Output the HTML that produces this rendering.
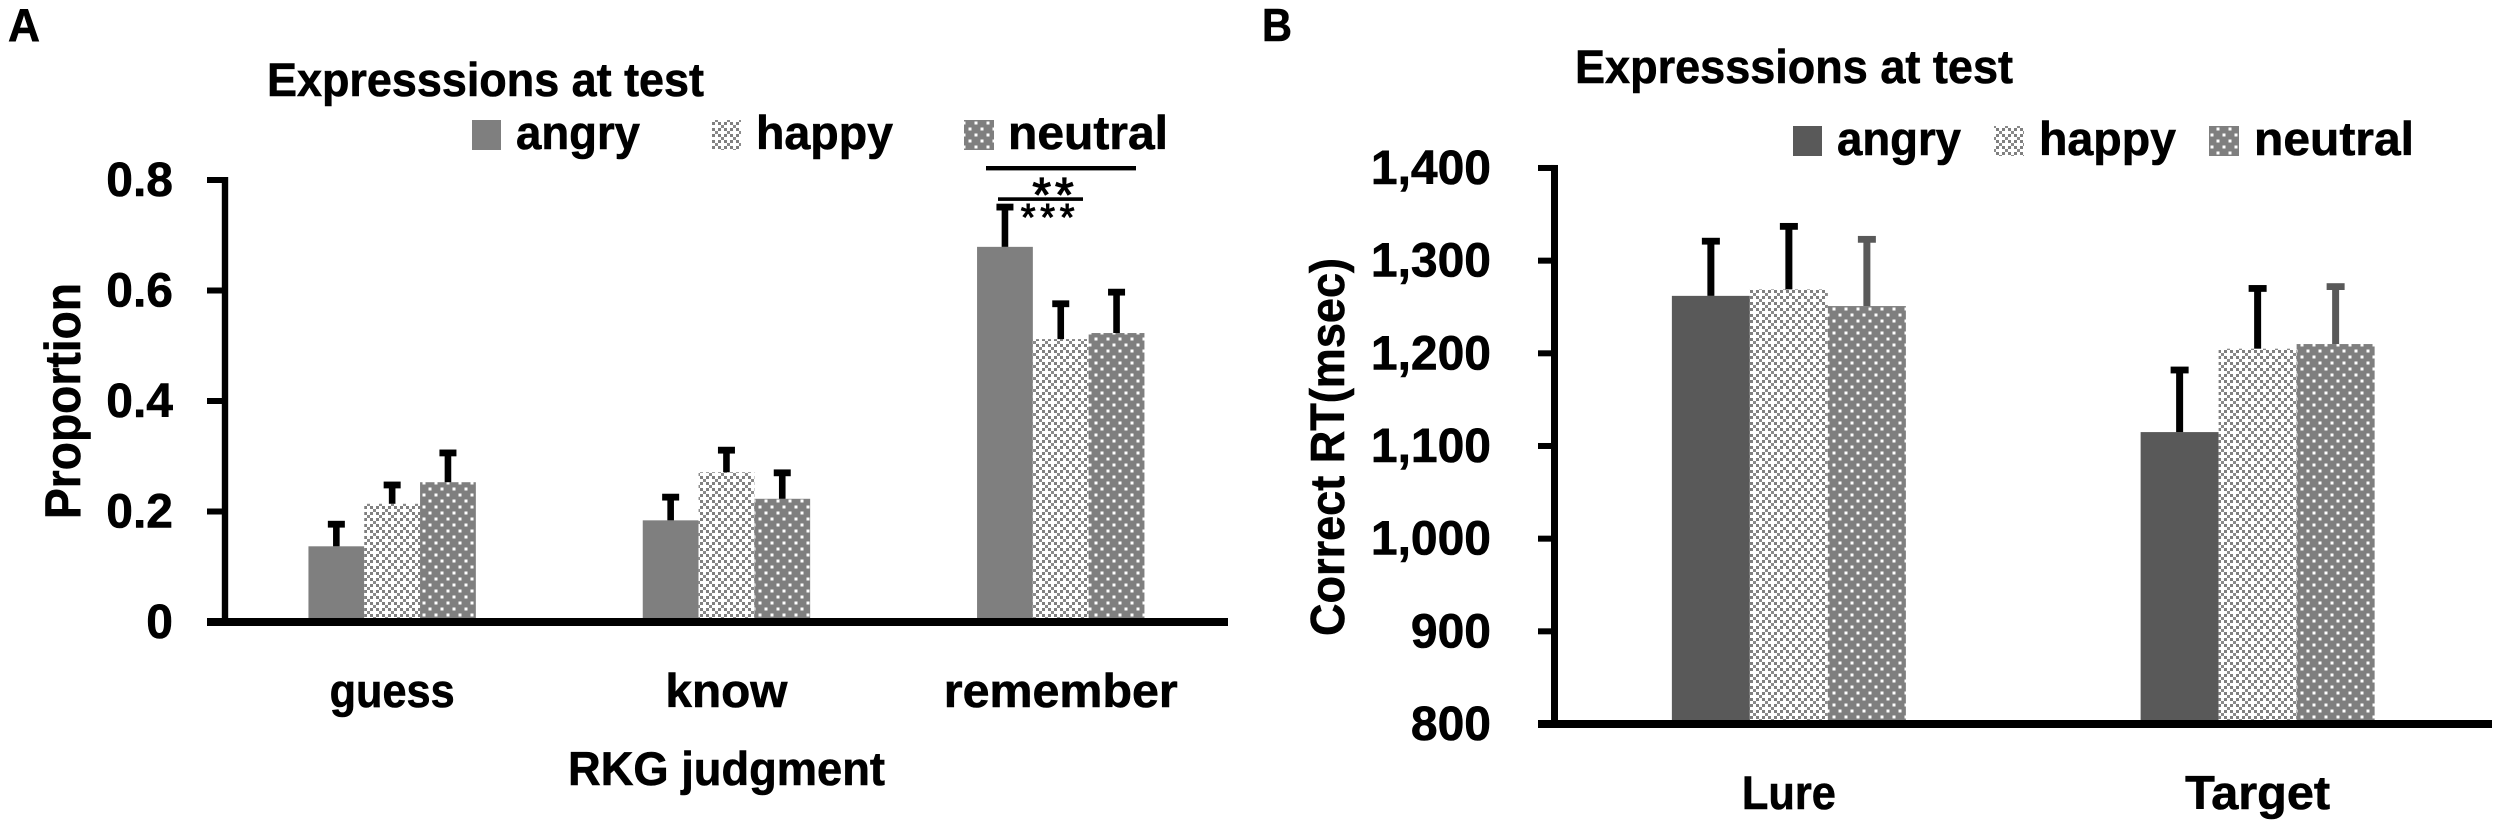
<!DOCTYPE html>
<html lang="en">
<head>
<meta charset="utf-8">
<title>Expressions at test: RKG judgment and correct RT</title>
<style>
html,body{margin:0;padding:0;background:#fff;width:2500px;height:827px;overflow:hidden}
svg{display:block}
text{font-family:"Liberation Sans",Arial,sans-serif;font-weight:700;fill:#000;stroke:#000;stroke-width:0.6px}
</style>
</head>
<body>
<svg id="figure" xmlns="http://www.w3.org/2000/svg" width="2500" height="827" viewBox="0 0 2500 827">
  <defs>
    <pattern id="pat-happy" width="12" height="12" patternUnits="userSpaceOnUse" x="2" y="0">
      <rect width="12" height="12" fill="#fff"/>
      <rect x="2" y="2" width="3" height="3" fill="#7f7f7f"/>
      <rect x="8" y="2" width="3" height="3" fill="#7f7f7f"/>
      <rect x="2" y="8" width="3" height="3" fill="#7f7f7f"/>
      <rect x="8" y="8" width="3" height="3" fill="#7f7f7f"/>
      <rect x="5" y="-1" width="3" height="3" fill="#8a8a8a"/>
      <rect x="5" y="11" width="3" height="3" fill="#8a8a8a"/>
      <rect x="-1" y="5" width="3" height="3" fill="#8a8a8a"/>
      <rect x="11" y="5" width="3" height="3" fill="#8a8a8a"/>
    </pattern>
    <pattern id="pat-neutral" width="12" height="12" patternUnits="userSpaceOnUse" x="1" y="0">
      <rect width="12" height="12" fill="#7f7f7f"/>
      <rect x="1.5" y="1.5" width="3" height="3" fill="#fff"/>
      <rect x="7.5" y="7.5" width="3" height="3" fill="#fff"/>
    </pattern>
  </defs>
  <rect width="2500" height="827" fill="#fff"/>

  <text x="8" y="41" font-size="46" textLength="32" lengthAdjust="spacingAndGlyphs">A</text>
  <text x="1262" y="41" font-size="46" textLength="30" lengthAdjust="spacingAndGlyphs">B</text>

  <g>
    <text x="267" y="96" font-size="47" textLength="437" lengthAdjust="spacingAndGlyphs">Expresssions at test</text>
    <rect x="472" y="120" width="29" height="30" fill="#7f7f7f"/>
    <text x="516" y="149" font-size="47" textLength="124" lengthAdjust="spacingAndGlyphs">angry</text>
    <rect x="712" y="120" width="29" height="30" fill="url(#pat-happy)"/>
    <text x="756" y="149" font-size="47" textLength="137" lengthAdjust="spacingAndGlyphs">happy</text>
    <rect x="964" y="120" width="30" height="30" fill="url(#pat-neutral)"/>
    <text x="1008" y="149" font-size="47" textLength="160" lengthAdjust="spacingAndGlyphs">neutral</text>
  </g>

  <g>
    <text x="1575" y="83" font-size="47" textLength="438" lengthAdjust="spacingAndGlyphs">Expresssions at test</text>
    <rect x="1793" y="126" width="29" height="30" fill="#595959"/>
    <text x="1837" y="155" font-size="47" textLength="124" lengthAdjust="spacingAndGlyphs">angry</text>
    <rect x="1994" y="126" width="30" height="30" fill="url(#pat-happy)"/>
    <text x="2039" y="155" font-size="47" textLength="137" lengthAdjust="spacingAndGlyphs">happy</text>
    <rect x="2209" y="126" width="30" height="30" fill="url(#pat-neutral)"/>
    <text x="2254" y="155" font-size="47" textLength="160" lengthAdjust="spacingAndGlyphs">neutral</text>
  </g>

  <text transform="translate(80,519) rotate(-90)" font-size="50" textLength="236" lengthAdjust="spacingAndGlyphs">Proportion</text>
  <text x="568" y="785" font-size="47" textLength="317" lengthAdjust="spacingAndGlyphs">RKG judgment</text>
  <text transform="translate(1344,636) rotate(-90)" font-size="48" textLength="378" lengthAdjust="spacingAndGlyphs">Correct RT(msec)</text>

  <g>
    <rect x="986" y="166" width="150" height="4.4" fill="#000"/>
    <text x="1055" y="211" font-size="48" text-anchor="middle" letter-spacing="4" style="font-weight:400;stroke-width:1.2px">**</text>
    <rect x="998" y="197.3" width="85" height="3.6" fill="#000"/>
    <text x="1050" y="230" font-size="38" text-anchor="middle" letter-spacing="4.7" style="font-weight:400;stroke-width:1px">***</text>
  </g>

  <g id="chart-a"></g>
  <g id="chart-b"></g>
</svg>

<script>
// Panel A data
const categoriesA = ['guess', 'know', 'remember'];
const seriesNames = ['angry', 'happy', 'neutral'];
const angryA = [0.137, 0.184, 0.679];
const happyA = [0.214, 0.271, 0.512];
const neutralA = [0.253, 0.223, 0.523];
const angryErrTopA = [0.177, 0.226, 0.751];
const happyErrTopA = [0.248, 0.311, 0.576];
const neutralErrTopA = [0.306, 0.270, 0.597];
const ticksA = [0, 0.2, 0.4, 0.6, 0.8];
const tickLabelsA = ['0', '0.2', '0.4', '0.6', '0.8'];

// Panel B data
const categoriesB = ['Lure', 'Target'];
const angryB = [1262, 1115];
const happyB = [1269, 1205];
const neutralB = [1251, 1210];
const angryErrTopB = [1321, 1182];
const happyErrTopB = [1337, 1270];
const neutralErrTopB = [1323, 1272];
const ticksB = [800, 900, 1000, 1100, 1200, 1300, 1400];
const tickLabelsB = ['800', '900', '1,000', '1,100', '1,200', '1,300', '1,400'];

const NS = 'http://www.w3.org/2000/svg';

// Axis functions
function yA(v) { return 622 - v * 552.5; }
function yB(v) { return 724 - (v - 800) * 0.9267; }
function bandA(i) { return 225 + 334.3 * (i + 0.5); }
function bandB(i) { return 1554.5 + 468.75 * (i + 0.5); }

// Rendered category label widths (style only, keyed by label)
const labelFit = new Map([['guess', 125], ['know', 122], ['remember', 234], ['Lure', 94], ['Target', 145]]);

function rect(parent, x, y, w, h, fill) {
  const r = document.createElementNS(NS, 'rect');
  r.setAttribute('x', x);
  r.setAttribute('y', y);
  r.setAttribute('width', w);
  r.setAttribute('height', h);
  r.setAttribute('fill', fill);
  parent.appendChild(r);
  return r;
}

function label(parent, x, y, str, size, anchor) {
  const t = document.createElementNS(NS, 'text');
  t.setAttribute('x', x);
  t.setAttribute('y', y);
  t.setAttribute('font-size', size);
  t.setAttribute('text-anchor', anchor);
  t.textContent = str;
  parent.appendChild(t);
  return t;
}

function drawChart(root, opt) {
  // Bars and error bars
  opt.cats.forEach(function (cat, c) {
    opt.series.forEach(function (values, s) {
      const center = opt.band(c) + (s - 1) * opt.barW;
      const top = opt.y(values[c]);
      const errTop = opt.y(opt.errs[s][c]);
      const bar = rect(root, center - opt.barW / 2, top, opt.barW, opt.y(opt.base) - top, opt.fills[s]);
      
      
      const stem = rect(root, center - opt.stemW / 2, errTop, opt.stemW, top - errTop, opt.errColors[s]);
      
      
      const cap = rect(root, center - opt.capW / 2, errTop - 3.4, opt.capW, 6.8, opt.errColors[s]);
      
      
    });
    const cl = label(root, opt.band(c), opt.catBaseline, cat, 47, 'middle');
    if (labelFit.has(cat)) {
      cl.setAttribute('textLength', labelFit.get(cat));
      cl.setAttribute('lengthAdjust', 'spacingAndGlyphs');
    }
    
    
  });

  // Axes
  const topY = opt.y(opt.ticks[opt.ticks.length - 1]);
  const baseY = opt.y(opt.base);
  const yAxis = rect(root, opt.axisX - opt.axisW / 2, topY - 3, opt.axisW, baseY - topY + 3, '#000');
  
  
  opt.ticks.forEach(function (tv, i) {
    const ty = opt.y(tv);
    if (i > 0) {
      const tick = rect(root, opt.tickX, ty - 3, opt.axisX - opt.tickX, 6, '#000');
      
      
    }
    const tl = label(root, opt.tickEnd, ty + 16, opt.tickLabels[i], 48, 'end');
    
    
  });
  const xAxis = rect(root, opt.tickX, baseY - 4, opt.xEnd - opt.tickX, 8, '#000');
  
  
}

drawChart(document.getElementById('chart-a'), {
  cats: categoriesA,
  series: [angryA, happyA, neutralA],
  errs: [angryErrTopA, happyErrTopA, neutralErrTopA],
  ticks: ticksA,
  tickLabels: tickLabelsA,
  y: yA,
  band: bandA,
  base: 0,
  barW: 55.8,
  stemW: 6.6,
  capW: 17,
  fills: ['#7f7f7f', 'url(#pat-happy)', 'url(#pat-neutral)'],
  errColors: ['#000', '#000', '#000'],
  axisX: 225,
  axisW: 6.4,
  tickX: 207,
  tickEnd: 173,
  xEnd: 1228,
  catBaseline: 707
});

drawChart(document.getElementById('chart-b'), {
  cats: categoriesB,
  series: [angryB, happyB, neutralB],
  errs: [angryErrTopB, happyErrTopB, neutralErrTopB],
  ticks: ticksB,
  tickLabels: tickLabelsB,
  y: yB,
  band: bandB,
  base: 800,
  barW: 78,
  stemW: 7,
  capW: 18,
  fills: ['#595959', 'url(#pat-happy)', 'url(#pat-neutral)'],
  errColors: ['#000', '#000', '#595959'],
  axisX: 1554.5,
  axisW: 7,
  tickX: 1538,
  tickEnd: 1491,
  xEnd: 2492,
  catBaseline: 809
});
</script>
</body>
</html>
